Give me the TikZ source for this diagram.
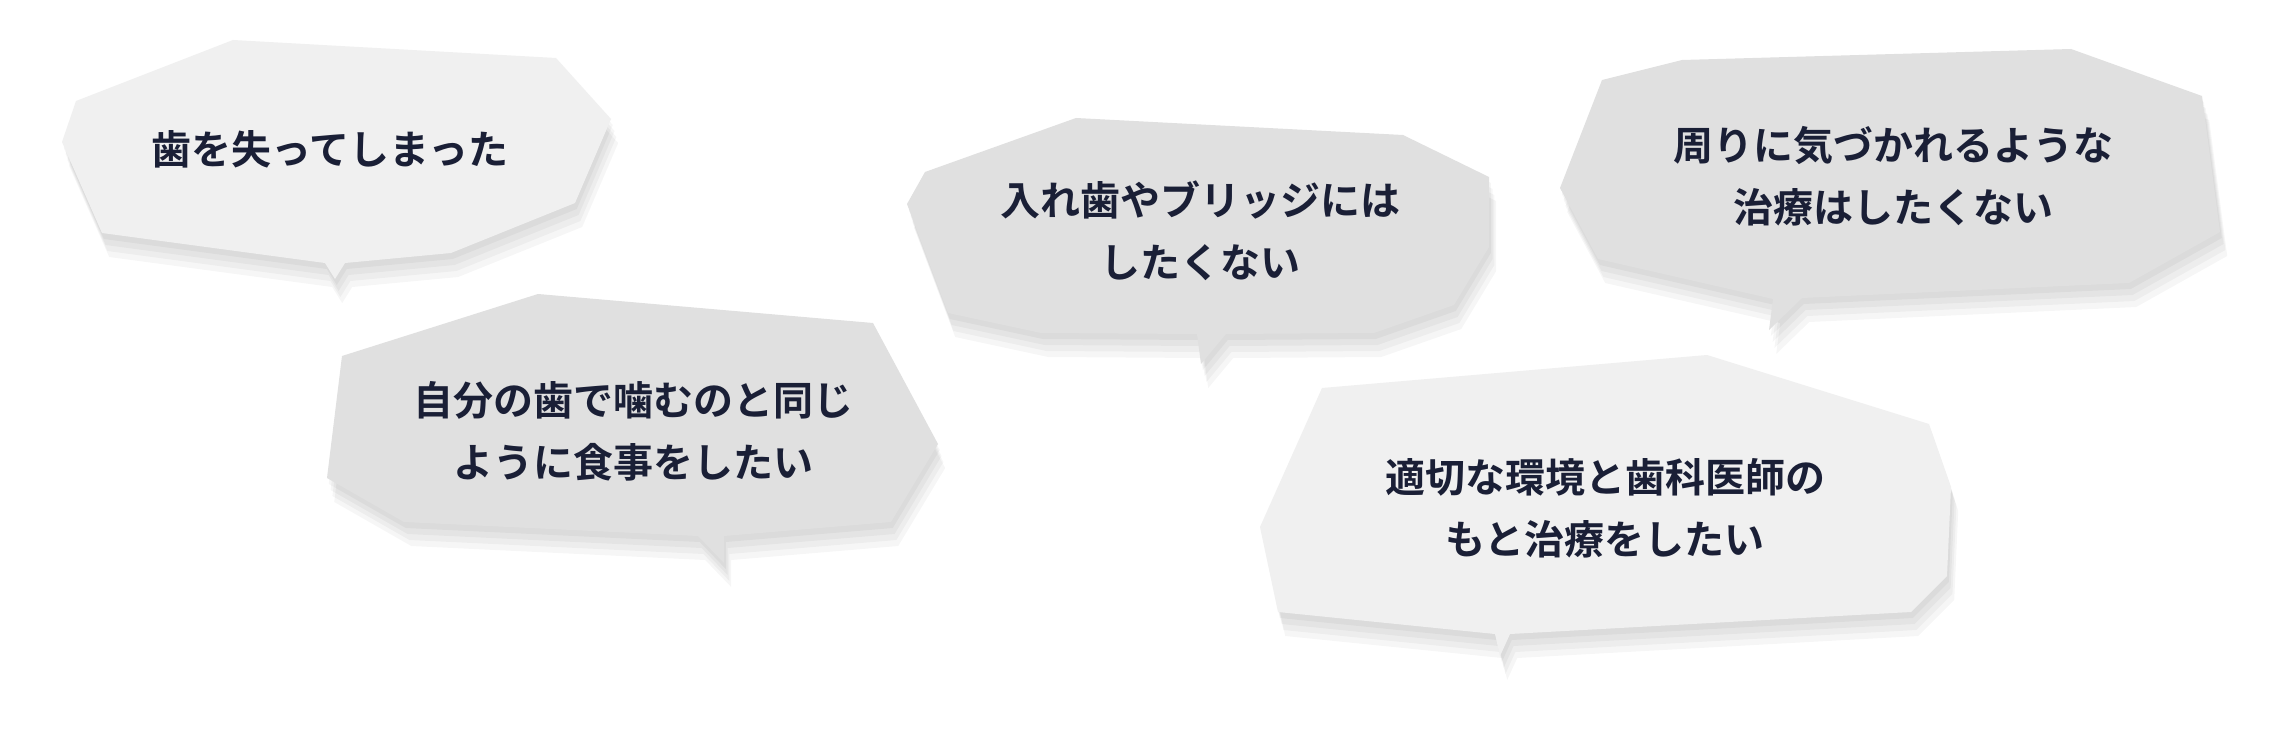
\documentclass[tikz,border=0pt]{standalone}
\usepackage{fontspec}
\newfontfamily\jp{Noto Sans CJK JP Bold}
\begin{document}
\begin{tikzpicture}[x=1pt,y=-1pt,
  txt/.style={font=\jp\fontsize{40}{62}\selectfont, text=navy, align=center, inner sep=0pt},
  shadowfill/.style={fill=black, fill opacity=0.035, draw=none}]
\definecolor{navy}{HTML}{1A1F36}
\definecolor{lightb}{HTML}{F0F0F0}
\definecolor{darkb}{HTML}{E0E0E0}
\useasboundingbox[fill=white] (0,0) rectangle (2280,741);
\def\bubA{(233,40)--(556,58)--(611,119)--(575,203)--(451,253)--(345,263)--(335,279)--(325,263)--(102,233)--(62,142)--(76,101)--cycle}
\def\bubB{(538,294)--(873,323)--(938,444)--(891,522)--(724,536)--(724,563)--(698,536)--(404,522)--(327,478)--(342,356)--cycle}
\def\bubC{(1076,118)--(1403,135)--(1489,177)--(1489,247)--(1454,305)--(1374,333)--(1226,334)--(1201,364)--(1197,334)--(1041,333)--(948,313)--(907,204)--(925,172)--cycle}
\def\bubD{(2071,49)--(2202,96)--(2220,232)--(2129,283)--(1802,298)--(1769,330)--(1773,299)--(1598,259)--(1560,188)--(1602,80)--(1682,60)--cycle}
\def\bubE{(1707,355)--(1929,424)--(1951,487)--(1947,576)--(1911,612)--(1510,634)--(1500,656)--(1495,634)--(1278,612)--(1260,527)--(1322,388)--cycle}
\foreach \s in {6,12,18,24}{
  \foreach \b in {\bubA,\bubB,\bubC,\bubD,\bubE}{
    \fill[shadowfill, shift={(\s*0.3,\s)}] \b;}}
\fill[lightb] \bubA;
\fill[darkb] \bubB;
\fill[darkb] \bubC;
\fill[darkb] \bubD;
\fill[lightb] \bubE;
\node[txt] (t1) at (330,149) {歯を失ってしまった};
\node[txt] (t2) at (633,431) {自分の歯で噛むのと同じ\\ように食事をしたい};
\node[txt] (t3) at (1200,231) {入れ歯やブリッジには\\したくない};
\node[txt] (t4) at (1893,176) {周りに気づかれるような\\治療はしたくない};
\node[txt] (t5) at (1605,508) {適切な環境と歯科医師の\\もと治療をしたい};
\end{tikzpicture}
\end{document}
